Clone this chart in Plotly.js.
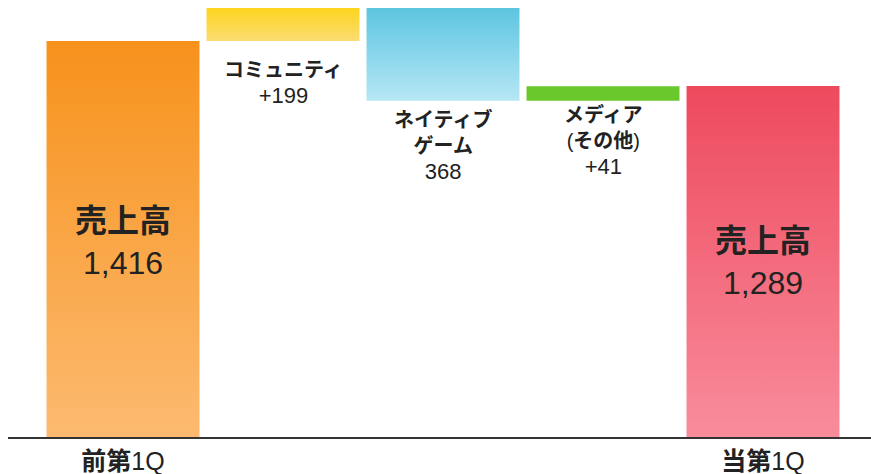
<!DOCTYPE html>
<html>
<head>
<meta charset="utf-8">
<script src="https://cdn.plot.ly/plotly-3.0.1.min.js"></script>
<style>html,body{margin:0;padding:0;background:#fff;}#chart{width:871px;height:474px;}</style>
</head>
<body>
<div id="chart"></div>
<script>
// ---- data ----
const categories = ["前第1Q", "コミュニティ", "ネイティブゲーム", "メディア(その他)", "当第1Q"];
const tickLabels = ["<b>前第</b>1Q", "", "", "", "<b>当第</b>1Q"];
const measures = ["absolute", "relative", "relative", "relative", "absolute"];
const values = [1416, 199, -368, 41, 1289];
const segmentNames = ["売上高", "<b>コミュニティ</b>", "<b>ネイティブ<br>ゲーム</b>", "<b>メディア</b><br>(<b>その他</b>)", "売上高"];

// ---- waterfall geometry from data ----
const bases = [], heights = [];
let running = 0;
values.forEach((v, i) => {
  if (measures[i] === "absolute") { bases.push(0); heights.push(v); running = v; }
  else { const b = v >= 0 ? running : running + v; bases.push(b); heights.push(Math.abs(v)); running += v; }
});

const gradients = [
  ["#F7921C", "#FCBA70"],
  ["#FDD41E", "#FCDC72"],
  ["#5DC5E1", "#B6E7F5"],
  ["#6BC82C", "#6BC82C"],
  ["#EE4A5E", "#F88C9B"]
];

const fmt = n => n.toLocaleString("en-US");
const FONT = "Liberation Sans, Arial, Noto Sans CJK JP";

// pixel helper for paper coords (plot area 8..438 px)
const py = p => (438 - p) / 430;

const annotations = [];
const totalCenters = {0: 242.5, 4: 261.5};
[0, 4].forEach(i => {
  annotations.push({
    x: categories[i], xref: "x", y: py(totalCenters[i]), yref: "paper",
    text: "<b>" + segmentNames[i] + "</b><br>" + fmt(values[i]),
    showarrow: false, xanchor: "center", yanchor: "middle",
    font: {size: 32, color: "#222", family: FONT}
  });
});
const changeCenters = {1: 83.5, 2: 146.5, 3: 141};
[1, 2, 3].forEach(i => {
  const num = values[i] >= 0 ? "+" + fmt(values[i]) : fmt(Math.abs(values[i]));
  annotations.push({
    x: categories[i], xref: "x", y: py(changeCenters[i]), yref: "paper",
    text: segmentNames[i] + "<br><span style=\"font-size:22px\">" + num + "</span>",
    showarrow: false, xanchor: "center", yanchor: "middle",
    font: {size: 20, color: "#222", family: FONT}
  });
});

const trace = {
  type: "bar",
  x: categories,
  y: heights,
  base: bases,
  marker: {color: gradients.map(g => g[0]), line: {width: 0}},
  hoverinfo: "skip"
};

const layout = {
  width: 871, height: 474,
  margin: {l: 43, r: 28, t: 8, b: 36},
  paper_bgcolor: "#fff", plot_bgcolor: "#fff",
  bargap: 0.044,
  showlegend: false,
  xaxis: {
    type: "category", tickvals: categories, ticktext: tickLabels,
    showline: false, showgrid: false, zeroline: false, ticks: "",
    ticklabelstandoff: 6,
    tickfont: {size: 25, color: "#222", family: FONT}
  },
  yaxis: {range: [295.5, 1509], visible: false, showgrid: false, zeroline: false},
  shapes: [{
    type: "line", xref: "paper", yref: "paper",
    x0: (8 - 43) / 800, x1: (871 - 43) / 800, y0: 0, y1: 0,
    line: {color: "#333", width: 2}
  }],
  annotations: annotations
};

Plotly.newPlot("chart", [trace], layout, {staticPlot: true}).then(gd => {
  const svg = gd.querySelector("svg.main-svg");
  const ns = "http://www.w3.org/2000/svg";
  const plotH = gd._fullLayout._size.h;
  let defs = svg.querySelector("defs");
  if (!defs) { defs = document.createElementNS(ns, "defs"); svg.insertBefore(defs, svg.firstChild); }
  gd.querySelectorAll(".trace.bars .point path").forEach((p, i) => {
    const g = gradients[i];
    const bb = p.getBBox();
    const top = Math.max(bb.y, 0), bot = Math.min(bb.y + bb.height, plotH);
    const lg = document.createElementNS(ns, "linearGradient");
    lg.setAttribute("id", "barGrad" + i);
    lg.setAttribute("gradientUnits", "userSpaceOnUse");
    lg.setAttribute("x1", "0"); lg.setAttribute("y1", top);
    lg.setAttribute("x2", "0"); lg.setAttribute("y2", bot);
    [[0, g[0]], [1, g[1]]].forEach(([o, c]) => {
      const s = document.createElementNS(ns, "stop");
      s.setAttribute("offset", o); s.setAttribute("stop-color", c);
      lg.appendChild(s);
    });
    defs.appendChild(lg);
    p.style.fill = "url(#barGrad" + i + ")";
  });
});
</script>
</body>
</html>
